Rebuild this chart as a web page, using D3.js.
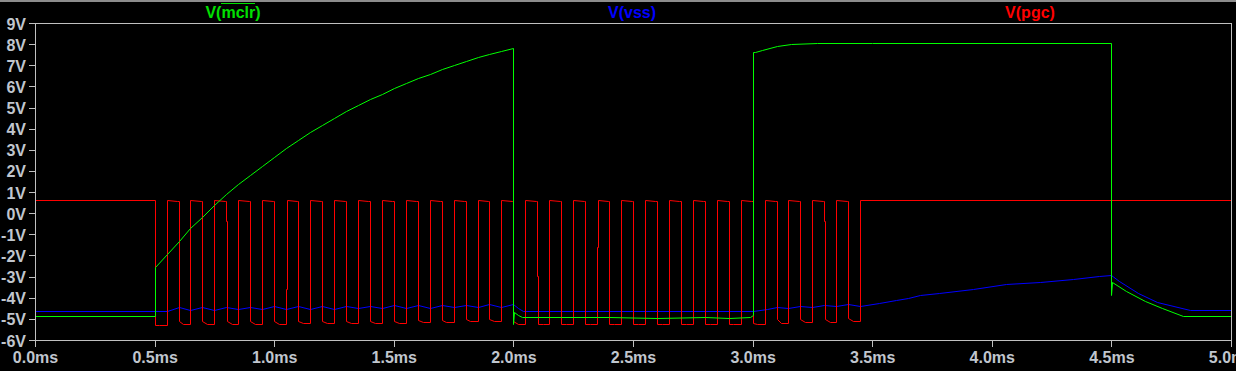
<!doctype html>
<html>
<head>
<meta charset="utf-8">
<script src="https://d3js.org/d3.v7.min.js"></script>
<style>
    body { margin: 0; background: #000; }
    svg { display: block; }
    .lbl {
        font-family: "Liberation Sans", Arial, sans-serif;
        font-weight: bold;
        font-size: 16px;
        fill: #c0c6ce;
    }
    .legend {
        font-family: "Liberation Sans", Arial, sans-serif;
        font-weight: bold;
        font-size: 16px;
    }
    .trace { fill: none; stroke-width: 1; }
</style>
</head>
<body>
<svg width="1236" height="371"></svg>
<script>
// axis ticks
var timeTicks = [0, 0.5, 1.0, 1.5, 2.0, 2.5, 3.0, 3.5, 4.0, 4.5, 5.0];
var timeLabels = ["0.0ms", "0.5ms", "1.0ms", "1.5ms", "2.0ms", "2.5ms", "3.0ms", "3.5ms", "4.0ms", "4.5ms", "5.0ms"];
var voltTicks = [9, 8, 7, 6, 5, 4, 3, 2, 1, 0, -1, -2, -3, -4, -5, -6];

// trace names
var traceNames = ["V(mclr)", "V(vss)", "V(pgc)"];

// V(mclr): [time ms, volts]
var mclr = [
    [0, -4.88], [0.5, -4.88], [0.5, -2.55], [0.55, -1.93], [0.60, -1.32], [0.65, -0.72],
    [0.70, -0.17], [0.75, 0.38], [0.80, 0.90], [0.85, 1.38], [0.90, 1.80], [0.95, 2.25],
    [1.00, 2.68], [1.05, 3.08], [1.10, 3.47], [1.15, 3.84], [1.20, 4.18], [1.25, 4.50],
    [1.30, 4.82], [1.35, 5.12], [1.40, 5.40], [1.45, 5.66], [1.50, 5.91], [1.55, 6.15],
    [1.60, 6.38], [1.65, 6.61], [1.70, 6.83], [1.75, 7.03], [1.80, 7.21], [1.85, 7.38],
    [1.90, 7.53], [1.95, 7.68], [2.00, 7.82], [2.00, -5.26], [2.003, -4.66], [2.02, -4.80],
    [2.035, -4.90], [2.2, -4.93], [2.4, -4.90], [2.6, -4.94], [2.8, -4.90], [2.9, -4.94],
    [2.99, -4.92], [3.0, -4.80], [3.0, 7.61], [3.01, 7.65], [3.04, 7.74], [3.10, 7.89],
    [3.16, 8.00], [3.27, 8.05], [3.5, 8.07], [4.5, 8.07], [4.5, -3.88], [4.503, -3.24],
    [4.56, -3.69], [4.64, -4.16], [4.71, -4.47], [4.80, -4.87], [5.0, -4.87]
];

// V(vss): [time ms, volts]
var vss = [
    [0, -4.63], [0.55, -4.63], [0.60, -4.46], [0.65, -4.57], [0.70, -4.44], [0.75, -4.56],
    [0.80, -4.43], [0.85, -4.55], [0.90, -4.42], [0.95, -4.54], [1.00, -4.41], [1.05, -4.53],
    [1.10, -4.40], [1.15, -4.52], [1.20, -4.39], [1.25, -4.51], [1.30, -4.38], [1.35, -4.50],
    [1.40, -4.37], [1.45, -4.49], [1.50, -4.36], [1.55, -4.48], [1.60, -4.35], [1.65, -4.47],
    [1.70, -4.34], [1.75, -4.46], [1.80, -4.33], [1.85, -4.45], [1.90, -4.32], [1.95, -4.43],
    [2.00, -4.31], [2.02, -4.48], [2.04, -4.63], [3.0, -4.63], [3.06, -4.52], [3.10, -4.42],
    [3.15, -4.47], [3.20, -4.38], [3.25, -4.44], [3.30, -4.33], [3.35, -4.41], [3.40, -4.31],
    [3.45, -4.40], [3.53, -4.27], [3.60, -4.10], [3.65, -4.00], [3.70, -3.89], [3.78, -3.76],
    [3.92, -3.61], [4.06, -3.35], [4.20, -3.24], [4.34, -3.09], [4.45, -2.98], [4.50, -2.94],
    [4.53, -3.21], [4.61, -3.76], [4.69, -4.20], [4.83, -4.60], [5.0, -4.60]
];

// V(pgc): high level, then pulses [fall, rise, low at fall, low at rise]
var pgcHigh = 0.61;
var pgcHighEnd = 0.56;
var pgcPulses = [
    [0.50, 0.55, -5.29, -5.29], [0.60, 0.65, -5.10, -5.22], [0.70, 0.75, -5.10, -5.22],
    [0.80, 0.85, -5.10, -5.22], [0.90, 0.95, -5.10, -5.22], [1.00, 1.05, -5.10, -5.22],
    [1.10, 1.15, -5.10, -5.21], [1.20, 1.25, -5.09, -5.20], [1.30, 1.35, -5.09, -5.20],
    [1.40, 1.45, -5.08, -5.19], [1.50, 1.55, -5.08, -5.18], [1.60, 1.65, -5.06, -5.16],
    [1.70, 1.75, -5.05, -5.14], [1.80, 1.85, -5.02, -5.10], [1.90, 1.95, -5.00, -5.08],
    [2.00, 2.05, -5.10, -5.26], [2.10, 2.15, -5.26, -5.26], [2.20, 2.25, -5.26, -5.26],
    [2.30, 2.35, -5.26, -5.26], [2.40, 2.45, -5.26, -5.26], [2.50, 2.55, -5.26, -5.26],
    [2.60, 2.65, -5.26, -5.26], [2.70, 2.75, -5.26, -5.26], [2.80, 2.85, -5.25, -5.26],
    [2.90, 2.95, -5.24, -5.26], [3.00, 3.05, -5.20, -5.24], [3.10, 3.15, -5.02, -5.18],
    [3.20, 3.25, -5.02, -5.16], [3.30, 3.35, -5.02, -5.14], [3.40, 3.45, -4.98, -5.08]
];
// small steps on a few edges: [edge time, level]
var pgcSteps = [[0.80, -0.38], [1.05, -3.60], [2.10, -2.95], [2.35, -1.59], [3.30, -0.38]];

var svg = d3.select("svg");

var x = d3.scaleLinear().domain([0, 5]).range([35.5, 1231.5]),
    y = d3.scaleLinear().domain([-6, 9]).range([340.5, 23.5]);

// snap to pixel centres so 1px traces stay solid
function px(v) { return Math.round(v - 0.5) + 0.5; }

svg.append("rect").attr("width", 1236).attr("height", 371).attr("fill", "#000");
svg.append("rect").attr("width", 1236).attr("height", 2).attr("fill", "#8c8c8c");

// build the pgc waveform from the pulse list
function stepAt(t) {
    for (var i = 0; i < pgcSteps.length; i++) {
        if (Math.abs(pgcSteps[i][0] - t) < 1e-6) return pgcSteps[i][1];
    }
    return null;
}
var pgc = [[0, pgcHigh]];
pgcPulses.forEach(function(p, i) {
    var fall = p[0], rise = p[1], s;
    if (i > 0) pgc.push([fall - 0.006, pgcHighEnd]);
    pgc.push([fall, i > 0 ? pgcHighEnd : pgcHigh]);
    s = stepAt(fall);
    if (s !== null) { pgc.push([fall, s]); fall += 0.004; pgc.push([fall, s]); }
    pgc.push([fall, p[2]]);
    pgc.push([fall + 0.02, p[3]]);
    pgc.push([rise, p[3]]);
    s = stepAt(rise);
    if (s !== null) { pgc.push([rise, s]); rise += 0.004; pgc.push([rise, s]); }
    pgc.push([rise, pgcHigh]);
});
pgc.push([5.0, pgcHigh]);

var line = d3.line()
    .x(function(d) { return px(x(d[0])); })
    .y(function(d) { return px(y(d[1])); });

var plot = svg.append("g");
plot.append("path").datum(vss).attr("class", "trace").attr("stroke", "#0000ff").attr("d", line);
plot.append("path").datum(pgc).attr("class", "trace").attr("stroke", "#ff0000").attr("d", line);
plot.append("path").datum(mclr).attr("class", "trace").attr("stroke", "#00ff00").attr("d", line);

// frame
var frameColor = "#c0c0c0";
svg.append("rect")
    .attr("x", x(0)).attr("y", y(9))
    .attr("width", x(5) - x(0)).attr("height", y(-6) - y(9))
    .attr("fill", "none").attr("stroke", frameColor).attr("shape-rendering", "crispEdges");

// y axis
var yAxis = svg.append("g");
yAxis.selectAll("line").data(voltTicks).enter().append("line")
    .attr("x1", 29).attr("x2", x(0))
    .attr("y1", function(d) { return px(y(d)); }).attr("y2", function(d) { return px(y(d)); })
    .attr("stroke", frameColor).attr("shape-rendering", "crispEdges");
yAxis.selectAll("text").data(voltTicks).enter().append("text")
    .attr("class", "lbl")
    .attr("x", 26)
    .attr("y", function(d) { return y(d) + 6; })
    .attr("text-anchor", "end")
    .text(function(d) { return d + "V"; });

// x axis
var xAxis = svg.append("g");
xAxis.selectAll("line").data(timeTicks).enter().append("line")
    .attr("x1", function(d) { return px(x(d)); }).attr("x2", function(d) { return px(x(d)); })
    .attr("y1", y(-6)).attr("y2", y(-6) + 6)
    .attr("stroke", frameColor).attr("shape-rendering", "crispEdges");
xAxis.selectAll("text").data(timeTicks).enter().append("text")
    .attr("class", "lbl")
    .attr("x", function(d) { return x(d); })
    .attr("y", 363)
    .attr("text-anchor", "middle")
    .text(function(d, i) { return timeLabels[i]; });

// trace names on top
var legendX = [233, 632, 1030];
var legendColor = ["#00e000", "#0000ff", "#ff0000"];
traceNames.forEach(function(name, i) {
    var t = svg.append("text")
        .attr("class", "legend")
        .attr("x", legendX[i]).attr("y", 17.5)
        .attr("text-anchor", "middle")
        .attr("fill", legendColor[i])
        .text(name);
    if (i === 0) {
        // overline on the inverted pin name
        var node = t.node();
        var x0 = node.getStartPositionOfChar(2).x;
        var x1 = node.getEndPositionOfChar(5).x;
        svg.append("line")
            .attr("x1", x0).attr("x2", x1)
            .attr("y1", 3.5).attr("y2", 3.5)
            .attr("stroke", legendColor[i]).attr("shape-rendering", "crispEdges");
    }
});
</script>
</body>
</html>
